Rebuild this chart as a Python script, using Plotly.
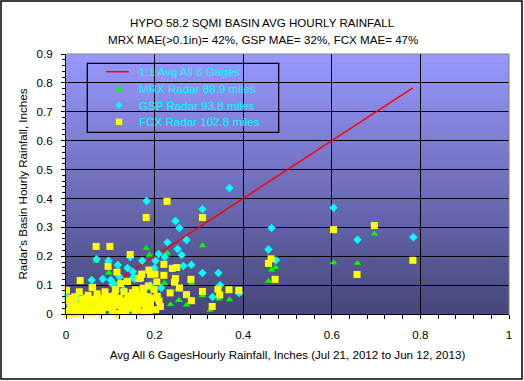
import plotly.graph_objects as go

# ---------------- data ----------------
line_x = [0.0, 0.783]
line_y = [0.0, 0.783]

mrx_x = [0.604, 0.658, 0.696, 0.784, 0.464, 0.473, 0.457,
         0.181, 0.188, 0.229, 0.308, 0.068, 0.096, 0.149, 0.172, 0.181, 0.198, 0.222, 0.251,
         0.256, 0.272, 0.236, 0.283, 0.308, 0.345, 0.369, 0.391, 0.200, 0.204, 0.325, 0.254,
         0.097, 0.172, 0.131, 0.172,
         0.020, 0.040, 0.075, 0.100, 0.120, 0.150, 0.170, 0.190, 0.045, 0.085, 0.130, 0.160,
         0.010, 0.110]
mrx_y = [0.178, 0.176, 0.277, 0.188, 0.153, 0.161, 0.114,
         0.228, 0.204, 0.211, 0.237, 0.183, 0.142, 0.119, 0.087, 0.087, 0.084, 0.107, 0.084,
         0.047, 0.032, 0.033, 0.107, 0.064, 0.052, 0.050, 0.071, 0.015, 0.014, 0.013, 0.047,
         0.143, 0.137, 0.082, 0.079,
         0.005, 0.010, 0.003, 0.004, 0.006, 0.002, 0.008, 0.005, 0.030, 0.040, 0.030, 0.045,
         0.045, 0.055]

gsp_x = [0.604, 0.464, 0.457, 0.474, 0.658, 0.784,
         0.369, 0.182, 0.308, 0.247, 0.256, 0.272, 0.229, 0.252, 0.261, 0.209, 0.223, 0.202,
         0.172, 0.145, 0.069, 0.096, 0.117, 0.139, 0.155, 0.265, 0.283, 0.200, 0.308, 0.344,
         0.058, 0.083, 0.101, 0.121, 0.153, 0.130, 0.348, 0.331, 0.391, 0.001, 0.027, 0.044,
         0.105, 0.042, 0.097, 0.079, 0.180, 0.151, 0.108,
         0.010, 0.060, 0.120, 0.160, 0.190, 0.215]
gsp_y = [0.368, 0.298, 0.223, 0.186, 0.257, 0.266,
         0.436, 0.391, 0.363, 0.322, 0.298, 0.256, 0.248, 0.225, 0.204, 0.208, 0.197, 0.184,
         0.184, 0.197, 0.190, 0.184, 0.170, 0.159, 0.121, 0.166, 0.170, 0.159, 0.142, 0.142,
         0.118, 0.121, 0.118, 0.128, 0.128, 0.083, 0.100, 0.059, 0.073, 0.059, 0.059, 0.051,
         0.103, 0.045, 0.059, 0.045, 0.051, 0.146, 0.105,
         0.030, 0.030, 0.040, 0.070, 0.100, 0.090]

fcx_x = [0.604, 0.696, 0.657, 0.783, 0.457, 0.463, 0.472,
         0.228, 0.181, 0.308, 0.068, 0.099, 0.145, 0.095, 0.115, 0.187, 0.171, 0.168, 0.221,
         0.240, 0.250, 0.201, 0.221, 0.247, 0.205, 0.245, 0.282, 0.032, 0.060, 0.001, 0.138,
         0.157, 0.256, 0.308, 0.343, 0.368, 0.390, 0.235, 0.272, 0.283, 0.330, 0.347, 0.206,
         0.190, 0.213,
         0.030, 0.088, 0.112, 0.131, 0.150, 0.165, 0.191, 0.174, 0.186, 0.199, 0.123,
         0.007, 0.015, 0.026, 0.037, 0.052, 0.067, 0.075, 0.090, 0.097, 0.105, 0.120, 0.127,
         0.139, 0.150, 0.157, 0.169, 0.180, 0.191, 0.202, 0.210,
         0.003, 0.012, 0.020, 0.035, 0.045, 0.058, 0.065, 0.082, 0.088, 0.110, 0.115, 0.135,
         0.145, 0.162, 0.175, 0.185, 0.050, 0.070, 0.020, 0.110, 0.140, 0.160, 0.185, 0.095,
         0.059, 0.139,
         0.010, 0.020, 0.030, 0.040, 0.050, 0.055, 0.060, 0.070, 0.080, 0.085, 0.095, 0.100,
         0.105, 0.115, 0.125, 0.130, 0.140, 0.145, 0.155, 0.160, 0.165, 0.170, 0.180, 0.190,
         0.195, 0.020, 0.040, 0.060, 0.080, 0.100, 0.120, 0.135, 0.175, 0.045, 0.005, 0.012]
fcx_y = [0.292, 0.306, 0.137, 0.186, 0.175, 0.191, 0.120,
         0.390, 0.334, 0.334, 0.234, 0.234, 0.206, 0.165, 0.145, 0.152, 0.138, 0.125, 0.172,
         0.158, 0.161, 0.138, 0.134, 0.123, 0.111, 0.110, 0.120, 0.116, 0.092, 0.082, 0.113,
         0.084, 0.090, 0.078, 0.086, 0.084, 0.082, 0.073, 0.067, 0.046, 0.026, 0.066, 0.061,
         0.050, 0.026,
         0.077, 0.077, 0.085, 0.077, 0.074, 0.123, 0.137, 0.089, 0.097, 0.085, 0.105,
         0.010, 0.033, 0.022, 0.051, 0.033, 0.051, 0.010, 0.040, 0.022, 0.010, 0.045, 0.022,
         0.051, 0.033, 0.010, 0.051, 0.022, 0.033, 0.015, 0.045,
         0.002, 0.004, 0.001, 0.006, 0.012, 0.003, 0.018, 0.005, 0.028, 0.030, 0.002, 0.008,
         0.020, 0.030, 0.005, 0.060, 0.065, 0.070, 0.060, 0.065, 0.062, 0.058, 0.012, 0.060,
         0.092, 0.112,
         0.020, 0.045, 0.030, 0.015, 0.040, 0.020, 0.050, 0.035, 0.020, 0.055, 0.040, 0.025,
         0.050, 0.035, 0.010, 0.045, 0.035, 0.050, 0.040, 0.015, 0.065, 0.035, 0.045, 0.015,
         0.055, 0.030, 0.040, 0.010, 0.045, 0.060, 0.055, 0.020, 0.070, 0.055, 0.045, 0.055]

x_ticks = [0, 0.2, 0.4, 0.6, 0.8, 1]
y_ticks = [0, 0.1, 0.2, 0.3, 0.4, 0.5, 0.6, 0.7, 0.8, 0.9]

title_lines = ["HYPO 58.2 SQMI BASIN AVG HOURLY RAINFALL",
               "MRX MAE(>0.1in)= 42%, GSP MAE= 32%, FCX MAE= 47%"]
names = ["1:1 Avg All 6 Gages", "MRX Radar 88.9 miles", "GSP Radar 93.8 miles",
         "FCX Radar 102.8 miles"]
x_title = "Avg All 6 GagesHourly Rainfall, Inches (Jul 21, 2012 to Jun 12, 2013)"
y_title = "Radar's Basin Hourly Rainfall, Inches"

# ---------------- figure ----------------
W, H = 524, 381
ML, MR, MT, MB = 66, 15, 54, 67
PW, PH = W - ML - MR, H - MT - MB
FONT = "Arial, Liberation Sans, sans-serif"
FS = 11.6
RED, GREEN, CYAN, YELLOW = "#FF0000", "#00FF00", "#00FFFF", "#FFFF00"


def px2paper_x(p):
    return (p - ML) / PW


def px2paper_y(p):
    return 1 - (p - MT) / PH


fig = go.Figure()
fig.add_trace(go.Scatter(x=line_x, y=line_y, mode="lines", name=names[0],
                         line=dict(color=RED, width=1.5), cliponaxis=False))
fig.add_trace(go.Scatter(x=mrx_x, y=mrx_y, mode="markers", name=names[1], cliponaxis=False,
                         marker=dict(symbol="triangle-up", size=6.5, color=GREEN,
                                     line=dict(width=0))))
fig.add_trace(go.Scatter(x=gsp_x, y=gsp_y, mode="markers", name=names[2], cliponaxis=False,
                         marker=dict(symbol="diamond", size=6.5, color=CYAN,
                                     line=dict(width=0))))
fig.add_trace(go.Scatter(x=fcx_x, y=fcx_y, mode="markers", name=names[3], cliponaxis=False,
                         marker=dict(symbol="square", size=7, color=YELLOW,
                                     line=dict(width=0))))

shapes = []
# gradient background strips
N = 80
top = (153, 153, 255)
bot = (70, 70, 122)
for i in range(N):
    t = (i + 0.5) / N
    c = tuple(round(top[k] + (bot[k] - top[k]) * t) for k in range(3))
    shapes.append(dict(type="rect", xref="x domain", yref="y domain",
                       x0=0, x1=1, y0=1 - (i + 1) / N, y1=min(1, 1 - i / N + 0.002),
                       fillcolor="rgb(%d,%d,%d)" % c, line=dict(width=0), layer="below"))
# gray top/right plot border
shapes.append(dict(type="line", xref="x domain", yref="y domain", x0=0, x1=1, y0=1, y1=1,
                   line=dict(color="#808080", width=1), layer="above"))
shapes.append(dict(type="line", xref="x domain", yref="y domain", x0=1, x1=1, y0=0, y1=1,
                   line=dict(color="#808080", width=1), layer="above"))
# outer chart border
shapes.append(dict(type="rect", xref="paper", yref="paper",
                   x0=px2paper_x(1), x1=px2paper_x(522), y0=px2paper_y(379), y1=px2paper_y(1),
                   line=dict(color="black", width=1.5), layer="above"))

# ---- hand-drawn legend (Excel style) ----
LEG_L, LEG_R, LEG_T, LEG_B = 87.3, 278.7, 63.3, 132.3
rows = [71.7, 88.4, 105.1, 121.8]
sym_x = 119.0
text_x = 136.7
shapes.append(dict(type="rect", xref="paper", yref="paper",
                   x0=px2paper_x(LEG_L), x1=px2paper_x(LEG_R),
                   y0=px2paper_y(LEG_B), y1=px2paper_y(LEG_T),
                   line=dict(color="black", width=1.3), fillcolor="rgba(0,0,0,0)",
                   layer="above"))
shapes.append(dict(type="line", xref="paper", yref="paper",
                   x0=px2paper_x(106), x1=px2paper_x(128.7),
                   y0=px2paper_y(rows[0]), y1=px2paper_y(rows[0]),
                   line=dict(color=RED, width=1.5), layer="above"))
sym_paths = ["M-3.5,-3 L3.5,-3 L0,3.7 Z",
             "M0,3.6 L3.4,0 L0,-3.6 L-3.4,0 Z",
             "M-3.2,-3.2 L3.2,-3.2 L3.2,3.2 L-3.2,3.2 Z"]
sym_cols = [GREEN, CYAN, YELLOW]
for k in range(3):
    shapes.append(dict(type="path", xref="paper", yref="paper",
                       xsizemode="pixel", ysizemode="pixel",
                       xanchor=px2paper_x(sym_x), yanchor=px2paper_y(rows[k + 1]),
                       path=sym_paths[k], fillcolor=sym_cols[k], line=dict(width=0),
                       layer="above"))

annotations = []
for k, nm in enumerate(names):
    annotations.append(dict(text=nm, xref="paper", yref="paper",
                            x=px2paper_x(text_x), y=px2paper_y(rows[k]),
                            xanchor="left", yanchor="middle", showarrow=False,
                            font=dict(family=FONT, size=FS, color=CYAN)))
# two-line title
for txt, ypx in zip(title_lines, [22.7, 39.3]):
    annotations.append(dict(text=txt, xref="paper", yref="paper",
                            x=px2paper_x(262.5), y=px2paper_y(ypx),
                            xanchor="center", yanchor="middle", showarrow=False,
                            font=dict(family=FONT, size=FS, color="black")))

fig.update_layout(
    width=W, height=H,
    margin=dict(l=ML, r=MR, t=MT, b=MB, autoexpand=False),
    paper_bgcolor="white", plot_bgcolor="rgb(110,110,190)",
    font=dict(family=FONT, size=FS, color="black"),
    showlegend=False,
    shapes=shapes,
    annotations=annotations,
)

fig.update_xaxes(range=[0, 1], tickvals=x_ticks, ticktext=[("%g" % v) for v in x_ticks],
                 showgrid=True, gridcolor="black", gridwidth=1, zeroline=False,
                 showline=True, linecolor="black", linewidth=1,
                 ticks="outside", ticklen=4, tickcolor="black", ticklabelstandoff=6,
                 minor=dict(dtick=0.04, tick0=0, ticks="outside", ticklen=4,
                            tickcolor="black", showgrid=False),
                 title=dict(text=x_title, standoff=10,
                            font=dict(family=FONT, size=FS, color="black")))
fig.update_yaxes(range=[0, 0.9], tickvals=y_ticks, ticktext=[("%g" % v) for v in y_ticks],
                 showgrid=True, gridcolor="black", gridwidth=1, zeroline=False,
                 showline=True, linecolor="black", linewidth=1,
                 ticks="outside", ticklen=4, tickcolor="black", ticklabelstandoff=6,
                 minor=dict(dtick=0.02, tick0=0, ticks="outside", ticklen=3,
                            tickcolor="black", showgrid=False),
                 title=dict(text=y_title, standoff=6,
                            font=dict(family=FONT, size=FS, color="black")))

fig.write_html("out.html", config={"displayModeBar": False},
               post_script="document.body.style.margin='0';document.body.style.overflow='hidden';")
